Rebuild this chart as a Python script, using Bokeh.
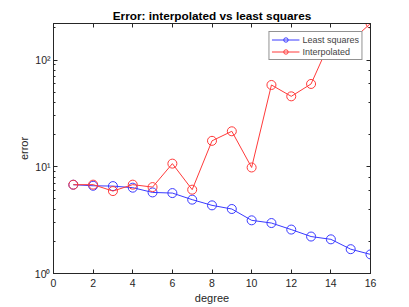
from bokeh.plotting import figure
from bokeh.embed import file_html
from bokeh.resources import INLINE
from bokeh.models import LinearAxis, LogAxis, Range1d, FixedTicker, Legend, LegendItem, CustomJSTickFormatter

degree = [1, 2, 3, 4, 5, 6, 7, 8, 9, 10, 11, 12, 13, 14, 15, 16]
least_squares = [6.79, 6.64, 6.59, 6.37, 5.75, 5.67, 4.92, 4.35, 4.02, 3.15, 2.97, 2.58, 2.22, 2.09, 1.69, 1.51]
interpolated = [6.79, 6.8, 5.92, 6.8, 6.45, 10.7, 6.1, 17.5, 21.5, 9.85, 58.4, 45.7, 59.7, 155, 150, 220]
x_ticks = [0, 2, 4, 6, 8, 10, 12, 14, 16]
y_labels = {1: "10⁰", 10: "10¹", 100: "10²"}

axis_col = "#262626"
p = figure(width=409, height=307, output_backend="svg", toolbar_location=None,
           y_axis_type="log", x_range=Range1d(0, 16), y_range=Range1d(1, 220),
           min_border_left=53, min_border_right=39, min_border_top=23, min_border_bottom=34,
           title="Error: interpolated vs least squares")
p.title.align = "center"
p.title.text_font = "Liberation Sans"
p.title.text_font_size = "11.8px"
p.title.text_font_style = "bold"
p.title.text_color = "#000000"
p.title.offset = 0
p.title.standoff = 2
p.grid.visible = False
p.outline_line_color = axis_col

def style(ax, labels=True):
    ax.axis_line_color = axis_col
    ax.major_tick_line_color = axis_col
    ax.minor_tick_line_color = axis_col
    ax.major_tick_in = 4
    ax.major_tick_out = 0
    ax.minor_tick_in = 2
    ax.minor_tick_out = 0
    ax.major_label_text_font = "Liberation Sans"
    ax.major_label_text_font_size = "10.5px"
    ax.major_label_text_color = "#262626"
    ax.axis_label_text_font = "Liberation Sans"
    ax.axis_label_text_font_size = "11px"
    ax.axis_label_text_font_style = "normal"
    ax.axis_label_text_color = "#262626"
    if not labels:
        ax.formatter = CustomJSTickFormatter(code="return ''")
        ax.major_label_standoff = 0

p.xaxis.ticker = FixedTicker(ticks=x_ticks)
p.xaxis.axis_label = "degree"
p.xaxis.axis_label_standoff = 2
p.xaxis.major_label_standoff = 5
p.yaxis.axis_label = "error"
p.yaxis.major_label_overrides = y_labels
p.yaxis.major_label_standoff = 3
p.yaxis.axis_label_standoff = 2
for ax in p.xaxis + p.yaxis:
    style(ax)
p.xaxis.minor_tick_in = 0

top = LinearAxis(ticker=FixedTicker(ticks=x_ticks))
style(top, labels=False)
top.minor_tick_in = 0
p.add_layout(top, "above")
right = LogAxis()
style(right, labels=False)
p.add_layout(right, "right")

bl = p.line(degree, least_squares, color="#3a3aff", line_width=1)
bc = p.scatter(degree, least_squares, marker="circle", size=9, fill_color=None, line_color="#3a3aff", line_width=1)
rl = p.line(degree, interpolated, color="#ff3a3a", line_width=1)
rc = p.scatter(degree, interpolated, marker="circle", size=9, fill_color=None, line_color="#ff3a3a", line_width=1)

legend = Legend(items=[LegendItem(label="Least squares", renderers=[bl, bc]),
                       LegendItem(label="Interpolated", renderers=[rl, rc])],
                location="top_right", margin=8, padding=2, spacing=1,
                glyph_width=28, glyph_height=11, label_height=11, label_standoff=3,
                label_text_font="Liberation Sans", label_text_font_size="9px",
                border_line_color=axis_col, background_fill_alpha=1)
p.add_layout(legend)

open("out.html", "w").write(file_html(p, INLINE))
